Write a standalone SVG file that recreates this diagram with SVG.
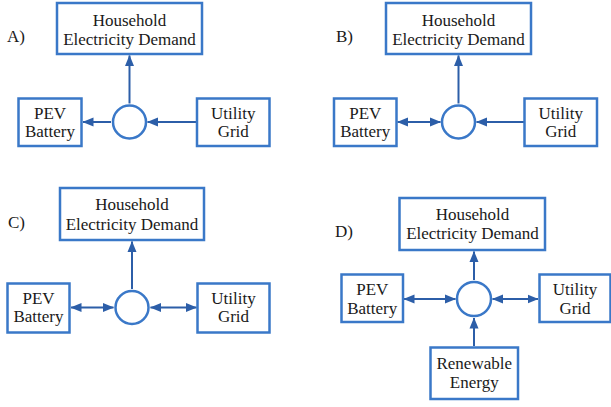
<svg xmlns="http://www.w3.org/2000/svg" width="611" height="407" viewBox="0 0 611 407">
<style>
.box{fill:#fff;stroke:#3A78C8;stroke-width:2.5}
.hub{fill:#fff;stroke:#3A78C8;stroke-width:2.5}
.t{font-family:'Liberation Serif','Times New Roman',serif;font-size:17px;fill:#1a1a1a;text-anchor:middle}
.lbl{font-family:'Liberation Serif','Times New Roman',serif;font-size:17px;fill:#1a1a1a}
.c{fill:none;stroke:#2C5EA8;stroke-width:2}
.one{marker-end:url(#ah)}
.two{marker-start:url(#ah);marker-end:url(#ah)}
</style>
<defs>
<marker id="ah" markerUnits="userSpaceOnUse" markerWidth="11" markerHeight="10" refX="10.5" refY="4.5" orient="auto-start-reverse" viewBox="0 0 11 9">
<path d="M0,0 L11,4.5 L0,9 z" fill="#2C5EA8"/>
</marker>
</defs>
<rect width="611" height="407" fill="#fff"/>

<g id="labels">
<text class="lbl" x="7" y="42">A)</text>
<text class="lbl" x="336" y="42">B)</text>
<text class="lbl" x="8" y="228">C)</text>
<text class="lbl" x="335" y="237">D)</text>
</g>

<g id="connectors">
<path class="c one" d="M129.5,103.5 L129.5,55.5"/>
<path class="c one" d="M111,122 L83,122"/>
<path class="c one" d="M196,122 L147.5,122"/>

<path class="c one" d="M458.5,103.5 L458.5,55.5"/>
<path class="c two" d="M397.5,122 L440.5,122"/>
<path class="c one" d="M524,122 L476.5,122"/>

<path class="c one" d="M132,289 L132,241.5"/>
<path class="c two" d="M71,307.5 L113.5,307.5"/>
<path class="c two" d="M150.5,307.5 L196.5,307.5"/>

<path class="c one" d="M474,280 L474,251.5"/>
<path class="c two" d="M404,299 L455.5,299"/>
<path class="c two" d="M492.5,299 L538,299"/>
<path class="c one" d="M474,346 L474,318"/>
</g>

<g id="A-household"><rect class="box" x="57" y="3" width="145" height="51"/><text class="t" x="129.5" y="26">Household</text><text class="t" x="129.5" y="45">Electricity Demand</text></g>
<g id="A-pev"><rect class="box" x="18.5" y="98.5" width="63" height="47.5"/><text class="t" x="50" y="118.5">PEV</text><text class="t" x="50" y="137">Battery</text></g>
<g id="A-grid"><rect class="box" x="197" y="98.5" width="72.5" height="47.5"/><text class="t" x="233.25" y="118.5">Utility</text><text class="t" x="233.25" y="137">Grid</text></g>
<g id="A-hub"><circle class="hub" cx="129.5" cy="122" r="16.5"/></g>

<g id="B-household"><rect class="box" x="386" y="3" width="145" height="51"/><text class="t" x="458.5" y="26">Household</text><text class="t" x="458.5" y="45">Electricity Demand</text></g>
<g id="B-pev"><rect class="box" x="334" y="98.5" width="62.5" height="47.5"/><text class="t" x="365.25" y="118.5">PEV</text><text class="t" x="365.25" y="137">Battery</text></g>
<g id="B-grid"><rect class="box" x="524.5" y="98.5" width="72.5" height="47.5"/><text class="t" x="560.75" y="118.5">Utility</text><text class="t" x="560.75" y="137">Grid</text></g>
<g id="B-hub"><circle class="hub" cx="458.5" cy="122" r="16.5"/></g>

<g id="C-household"><rect class="box" x="60" y="188" width="144" height="52"/><text class="t" x="132" y="210">Household</text><text class="t" x="132" y="229.5">Electricity Demand</text></g>
<g id="C-pev"><rect class="box" x="7.5" y="283.5" width="62" height="49"/><text class="t" x="38.5" y="303.5">PEV</text><text class="t" x="38.5" y="322">Battery</text></g>
<g id="C-grid"><rect class="box" x="197.5" y="283.5" width="72" height="49"/><text class="t" x="233.5" y="303.5">Utility</text><text class="t" x="233.5" y="322">Grid</text></g>
<g id="C-hub"><circle class="hub" cx="132" cy="307.5" r="16.5"/></g>

<g id="D-household"><rect class="box" x="399.5" y="198" width="145.5" height="52"/><text class="t" x="472.5" y="219.5">Household</text><text class="t" x="472.5" y="239">Electricity Demand</text></g>
<g id="D-pev"><rect class="box" x="341.5" y="274.5" width="61.5" height="47.5"/><text class="t" x="372.25" y="295">PEV</text><text class="t" x="372.25" y="314">Battery</text></g>
<g id="D-grid"><rect class="box" x="539.5" y="274.5" width="71" height="47.5"/><text class="t" x="575" y="295">Utility</text><text class="t" x="575" y="314">Grid</text></g>
<g id="D-renewable"><rect class="box" x="430.5" y="347.5" width="87.5" height="51.5"/><text class="t" x="474.25" y="369">Renewable</text><text class="t" x="474.25" y="388">Energy</text></g>
<g id="D-hub"><circle class="hub" cx="474" cy="299" r="17"/></g>
</svg>
